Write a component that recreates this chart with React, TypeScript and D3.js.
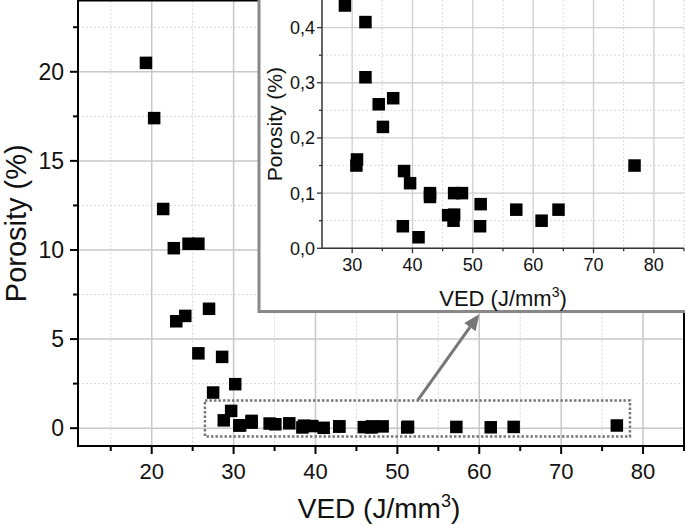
import React from 'react';
import * as d3 from 'd3';

// VED (J/mm^3) and porosity (%) of every specimen
const ved = [
  19.3, 20.3, 21.4, 22.7, 24.5, 25.7, 23.0, 24.1, 27.0, 25.7, 28.6, 30.2, 27.5, 29.7,
  28.8, 32.2, 32.2, 34.4, 36.8, 35.1, 30.8, 30.7, 38.6, 39.6, 42.9, 42.9, 46.9, 48.2,
  45.9, 46.9, 46.8, 51.3, 51.2, 38.4, 41.0, 57.2, 61.4, 64.2, 76.8,
];
const porosity = [
  20.5, 17.4, 12.3, 10.1, 10.35, 10.35, 6.0, 6.3, 6.7, 4.2, 4.0, 2.47, 2.0, 0.97,
  0.44, 0.41, 0.31, 0.261, 0.272, 0.22, 0.161, 0.15, 0.14, 0.118, 0.1, 0.093, 0.1, 0.1,
  0.06, 0.061, 0.05, 0.08, 0.04, 0.04, 0.02, 0.07, 0.05, 0.07, 0.15,
];

const mainXDomain = [11, 85];
const mainYDomain = [-1, 24];
const mainXMajor = [20, 30, 40, 50, 60, 70, 80];
const mainXMinor = [15, 25, 35, 45, 55, 65, 75, 85];
const mainYMajor = [0, 5, 10, 15, 20];
const mainYMinor = [2.5, 7.5, 12.5, 17.5, 22.5];

const insetXDomain = [25, 85];
const insetYDomain = [0, 0.45];
const insetXMajor = [30, 40, 50, 60, 70, 80];
const insetXMinor = [35, 45, 55, 65, 75, 85];
const insetYMajor = [0, 0.1, 0.2, 0.3, 0.4];
const insetYMinor = [0.05, 0.15, 0.25, 0.35];

// zoom box (data coords) and arrow (data coords of main plot)
const zoomBoxX = [26.5, 78.4];
const zoomBoxY = [-0.47, 1.55];
const arrowFrom = [52.5, 1.58];
const arrowTo = [60.0, 6.4];

const FONT = "'Liberation Sans', Arial, Helvetica, sans-serif";

export default function App() {
  const W = 685, H = 525;
  const m = { left: 78, right: 684, top: 0.5, bottom: 446 };
  const x = d3.scaleLinear().domain(mainXDomain).range([m.left, m.right]);
  const y = d3.scaleLinear().domain(mainYDomain).range([m.bottom, m.top]);

  const ins = { left: 322, right: 684, top: 0, bottom: 248.3 };
  const ix = d3.scaleLinear().domain(insetXDomain).range([ins.left, ins.right]);
  const iy = d3.scaleLinear().domain(insetYDomain).range([ins.bottom, ins.top]);
  const fmtComma = (v: number) => d3.format('.1f')(v).replace('.', ',');

  const sq = 12.5;
  const insetPts = ved
    .map((v, i) => [v, porosity[i]])
    .filter(([v, p]) => v >= insetXDomain[0] && v <= insetXDomain[1] && p >= insetYDomain[0] && p <= insetYDomain[1] + 0.005);

  const a0 = [x(arrowFrom[0]), y(arrowFrom[1])];
  const a1 = [x(arrowTo[0]), y(arrowTo[1])];
  const ang = Math.atan2(a1[1] - a0[1], a1[0] - a0[0]);
  const hl = 16, hw = 7;
  const bx = a1[0] - hl * Math.cos(ang), by = a1[1] - hl * Math.sin(ang);
  const head = [
    [a1[0], a1[1]],
    [bx + hw * Math.sin(ang), by - hw * Math.cos(ang)],
    [bx - hw * Math.sin(ang), by + hw * Math.cos(ang)],
  ];

  return (
    <svg width={W} height={H} style={{ position: 'absolute', left: 0, top: 0, background: '#fff' }} fontFamily={FONT}>
      <rect x={0} y={0} width={W} height={H} fill="#fff" />
      {/* main grid */}
      {mainXMinor.map((t) => (
        <line key={'gxm' + t} x1={x(t)} x2={x(t)} y1={m.top} y2={m.bottom} stroke="#d8d8d8" strokeWidth={1} strokeDasharray="2,2" />
      ))}
      {mainYMinor.map((t) => (
        <line key={'gym' + t} x1={m.left} x2={m.right} y1={y(t)} y2={y(t)} stroke="#d8d8d8" strokeWidth={1} strokeDasharray="2,2" />
      ))}
      {mainXMajor.map((t) => (
        <line key={'gx' + t} x1={x(t)} x2={x(t)} y1={m.top} y2={m.bottom} stroke="#c8c8c8" strokeWidth={1.5} />
      ))}
      {mainYMajor.map((t) => (
        <line key={'gy' + t} x1={m.left} x2={m.right} y1={y(t)} y2={y(t)} stroke="#c8c8c8" strokeWidth={1.5} />
      ))}
      {/* main points */}
      {ved.map((v, i) => (
        <rect key={'p' + i} x={x(v) - sq / 2} y={y(porosity[i]) - sq / 2} width={sq} height={sq} fill="#000" />
      ))}
      {/* zoom box */}
      <rect
        x={x(zoomBoxX[0])}
        y={y(zoomBoxY[1])}
        width={x(zoomBoxX[1]) - x(zoomBoxX[0])}
        height={y(zoomBoxY[0]) - y(zoomBoxY[1])}
        fill="none"
        stroke="#777"
        strokeWidth={2.5}
        strokeDasharray="2.5,2"
      />
      {/* arrow */}
      <line x1={a0[0]} y1={a0[1]} x2={bx} y2={by} stroke="#777" strokeWidth={3} />
      <polygon points={head.map((p) => p.join(',')).join(' ')} fill="#777" />
      {/* main frame & ticks */}
      {mainXMajor.map((t) => (
        <line key={'tx' + t} x1={x(t)} x2={x(t)} y1={m.bottom} y2={m.bottom + 8} stroke="#000" strokeWidth={2} />
      ))}
      {mainXMinor.map((t) => (
        <line key={'txm' + t} x1={x(t)} x2={x(t)} y1={m.bottom} y2={m.bottom + 5} stroke="#000" strokeWidth={2} />
      ))}
      {mainYMajor.map((t) => (
        <line key={'ty' + t} x1={m.left - 8} x2={m.left} y1={y(t)} y2={y(t)} stroke="#000" strokeWidth={2} />
      ))}
      {mainYMinor.map((t) => (
        <line key={'tym' + t} x1={m.left - 5} x2={m.left} y1={y(t)} y2={y(t)} stroke="#000" strokeWidth={2} />
      ))}
      <rect x={m.left} y={m.top} width={m.right - m.left} height={m.bottom - m.top} fill="none" stroke="#000" strokeWidth={2} />
      {mainXMajor.map((t) => (
        <text key={'lx' + t} x={x(t)} y={479} textAnchor="middle" fontSize={22} fill="#111">
          {t}
        </text>
      ))}
      {mainYMajor.map((t) => (
        <text key={'ly' + t} x={64} y={y(t)} dy="0.36em" textAnchor="end" fontSize={23} fill="#111">
          {t}
        </text>
      ))}
      <text x={(m.left + m.right) / 2 - 2} y={518} textAnchor="middle" fontSize={28} fill="#111">
        VED (J/mm
        <tspan dy={-11} fontSize={18}>3</tspan>
        <tspan dy={11}>)</tspan>
      </text>
      <text transform={`translate(26,${(m.top + m.bottom) / 2}) rotate(-90)`} textAnchor="middle" fontSize={29} fill="#111">
        Porosity (%)
      </text>

      {/* inset */}
      <rect x={259} y={-2} width={440} height={313.5} fill="#fff" stroke="#888" strokeWidth={3} />
      <defs>
        <clipPath id="insetClip">
          <rect x={ins.left} y={ins.top} width={ins.right - ins.left + 2} height={ins.bottom - ins.top} />
        </clipPath>
      </defs>
      {insetXMinor.map((t) => (
        <line key={'igxm' + t} x1={ix(t)} x2={ix(t)} y1={ins.top} y2={ins.bottom} stroke="#dcdcdc" strokeWidth={1} strokeDasharray="2,2" />
      ))}
      {insetYMinor.map((t) => (
        <line key={'igym' + t} x1={ins.left} x2={ins.right} y1={iy(t)} y2={iy(t)} stroke="#dcdcdc" strokeWidth={1} strokeDasharray="2,2" />
      ))}
      {insetXMajor.map((t) => (
        <line key={'igx' + t} x1={ix(t)} x2={ix(t)} y1={ins.top} y2={ins.bottom} stroke="#cfcfcf" strokeWidth={1.3} />
      ))}
      {insetYMajor.map((t) => (
        <line key={'igy' + t} x1={ins.left} x2={ins.right} y1={iy(t)} y2={iy(t)} stroke="#cfcfcf" strokeWidth={1.3} />
      ))}
      <g clipPath="url(#insetClip)">
        {insetPts.map(([v, p], i) => (
          <rect key={'ip' + i} x={ix(v) - sq / 2} y={iy(p) - sq / 2} width={sq} height={sq} fill="#000" />
        ))}
      </g>
      {insetXMajor.map((t) => (
        <line key={'itx' + t} x1={ix(t)} x2={ix(t)} y1={ins.bottom} y2={ins.bottom + 5} stroke="#333" strokeWidth={1.3} />
      ))}
      {insetXMinor.map((t) => (
        <line key={'itxm' + t} x1={ix(t)} x2={ix(t)} y1={ins.bottom} y2={ins.bottom + 3} stroke="#333" strokeWidth={1.3} />
      ))}
      {insetYMajor.map((t) => (
        <line key={'ity' + t} x1={ins.left - 5} x2={ins.left} y1={iy(t)} y2={iy(t)} stroke="#333" strokeWidth={1.3} />
      ))}
      {insetYMinor.map((t) => (
        <line key={'itym' + t} x1={ins.left - 3} x2={ins.left} y1={iy(t)} y2={iy(t)} stroke="#333" strokeWidth={1.3} />
      ))}
      <line x1={ins.left} x2={ins.left} y1={ins.top} y2={ins.bottom} stroke="#333" strokeWidth={1.5} />
      <line x1={ins.left} x2={ins.right} y1={ins.bottom} y2={ins.bottom} stroke="#333" strokeWidth={1.5} />
      {insetXMajor.map((t) => (
        <text key={'ilx' + t} x={ix(t)} y={271} textAnchor="middle" fontSize={18} fill="#111">
          {t}
        </text>
      ))}
      {insetYMajor.map((t) => (
        <text key={'ily' + t} x={315} y={iy(t)} dy="0.36em" textAnchor="end" fontSize={18} fill="#111">
          {fmtComma(t)}
        </text>
      ))}
      <text x={(ins.left + ins.right) / 2} y={306} textAnchor="middle" fontSize={22} fill="#111">
        VED (J/mm
        <tspan dy={-9} fontSize={14}>3</tspan>
        <tspan dy={9}>)</tspan>
      </text>
      <text transform={`translate(282,${(ins.top + ins.bottom) / 2}) rotate(-90)`} textAnchor="middle" fontSize={21} fill="#111">
        Porosity (%)
      </text>
    </svg>
  );
}
